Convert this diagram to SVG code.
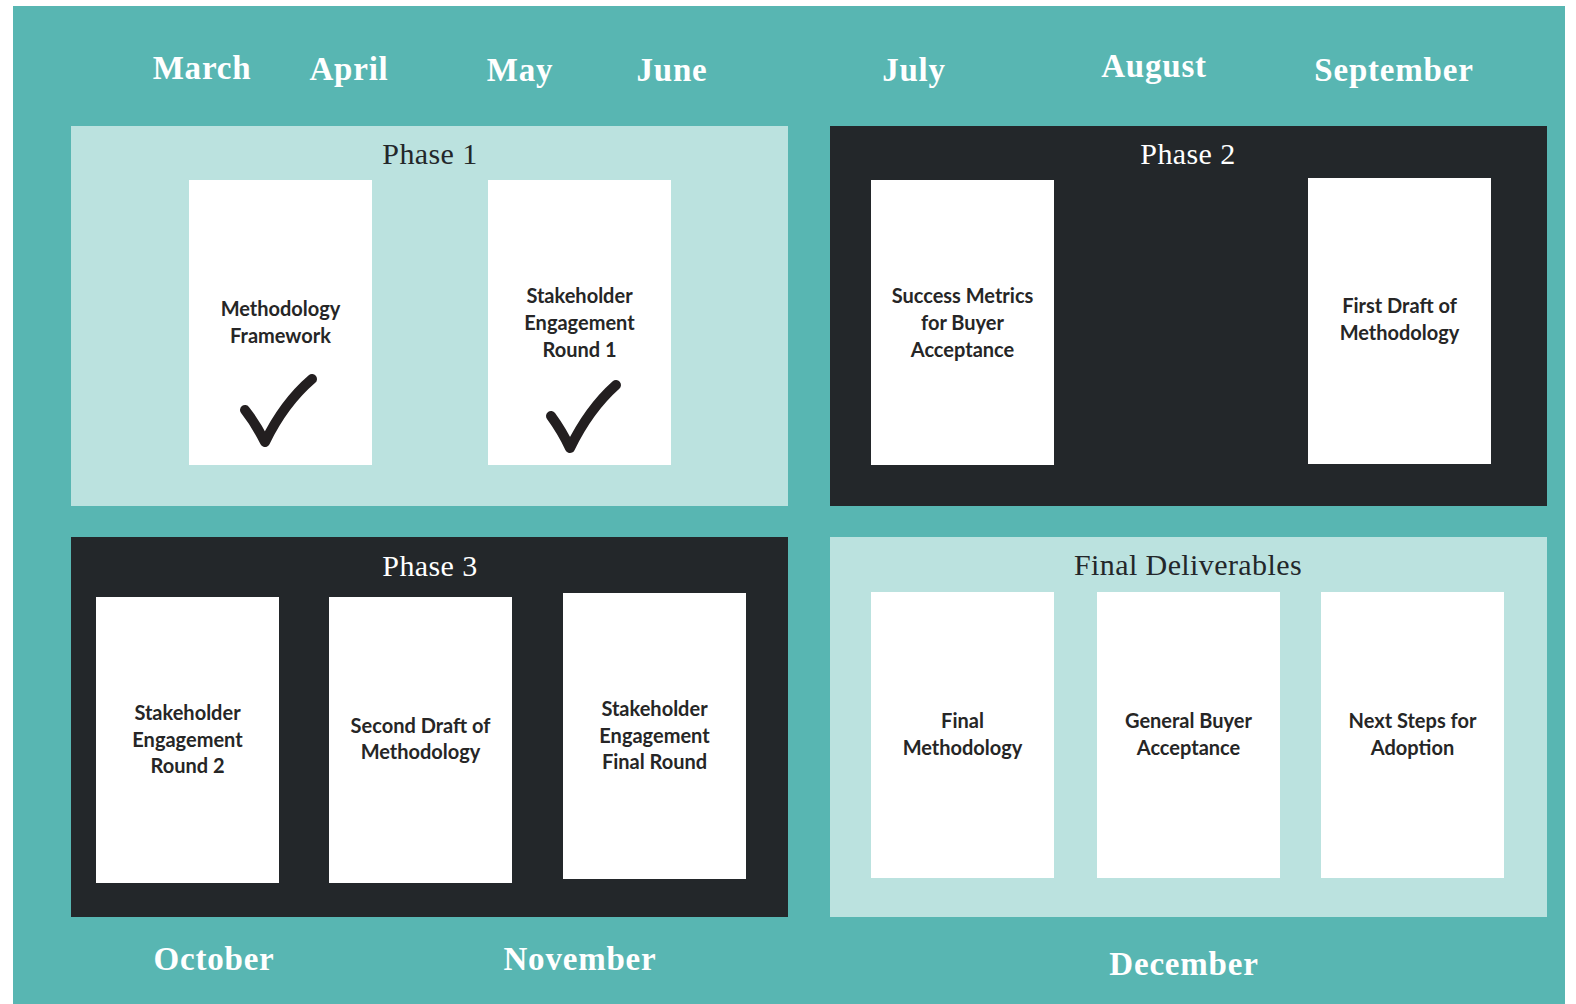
<svg xmlns="http://www.w3.org/2000/svg" width="1576" height="1004" viewBox="0 0 1576 1004">
<style>
.month{font-family:"Liberation Serif",serif;font-weight:bold;font-size:33px;letter-spacing:0.8px;fill:#ffffff;text-anchor:middle}
.title{font-family:"Liberation Serif",serif;font-size:30px;letter-spacing:0.4px;text-anchor:middle}
.dark{fill:#23272a}
.light{fill:#bbe2df}
.card{fill:#ffffff}
.lbl{font-family:Lato,"Liberation Sans",sans-serif;font-weight:bold;font-size:20px;fill:#262626;text-anchor:middle}
.check{fill:none;stroke:#231f20;stroke-width:10;stroke-linecap:round;stroke-linejoin:round}
</style>
<rect x="0" y="0" width="1576" height="1004" fill="#ffffff"/>
<rect x="13" y="6" width="1552" height="998" fill="#58b6b2"/>
<g id="months">
<text class="month" x="202" y="79">March</text>
<text class="month" x="349" y="80">April</text>
<text class="month" x="520" y="81">May</text>
<text class="month" x="672" y="81">June</text>
<text class="month" x="914" y="81">July</text>
<text class="month" x="1154" y="77">August</text>
<text class="month" x="1394" y="81">September</text>
<text class="month" x="214" y="970">October</text>
<text class="month" x="580" y="970">November</text>
<text class="month" x="1184" y="975">December</text>
</g>
<g id="phase1">
<rect class="light" x="71" y="126" width="717" height="380"/>
<text class="title" x="430" y="164" fill="#23272a">Phase 1</text>
</g>
<g id="phase2">
<rect class="dark" x="830" y="126" width="717" height="380"/>
<text class="title" x="1188" y="164" fill="#ffffff">Phase 2</text>
</g>
<g id="phase3">
<rect class="dark" x="71" y="537" width="717" height="380"/>
<text class="title" x="430" y="576" fill="#ffffff">Phase 3</text>
</g>
<g id="final">
<rect class="light" x="830" y="537" width="717" height="380"/>
<text class="title" x="1188" y="575" fill="#23272a">Final Deliverables</text>
</g>
<g id="card-methodology-framework">
<rect class="card" x="189" y="180" width="183" height="285"/>
<text class="lbl" x="280.5" y="316">Methodology</text>
<text class="lbl" x="280.5" y="343">Framework</text>
<path class="check" d="M245,410 Q256,424 265,442 Q284,403 312,379"/>
</g>
<g id="card-stakeholder-1">
<rect class="card" x="488" y="180" width="183" height="285"/>
<text class="lbl" x="579.5" y="303">Stakeholder</text>
<text class="lbl" x="579.5" y="330">Engagement</text>
<text class="lbl" x="579.5" y="357">Round 1</text>
<path class="check" d="M551,416 Q562,431 570,448 Q589,409 616,385"/>
</g>
<g id="card-success-metrics">
<rect class="card" x="871" y="180" width="183" height="285"/>
<text class="lbl" x="962.5" y="303">Success Metrics</text>
<text class="lbl" x="962.5" y="330">for Buyer</text>
<text class="lbl" x="962.5" y="357">Acceptance</text>
</g>
<g id="card-first-draft">
<rect class="card" x="1308" y="178" width="183" height="286"/>
<text class="lbl" x="1399.5" y="313">First Draft of</text>
<text class="lbl" x="1399.5" y="340">Methodology</text>
</g>
<g id="card-stakeholder-2">
<rect class="card" x="96" y="597" width="183" height="286"/>
<text class="lbl" x="187.5" y="720">Stakeholder</text>
<text class="lbl" x="187.5" y="747">Engagement</text>
<text class="lbl" x="187.5" y="773">Round 2</text>
</g>
<g id="card-second-draft">
<rect class="card" x="329" y="597" width="183" height="286"/>
<text class="lbl" x="420.5" y="733">Second Draft of</text>
<text class="lbl" x="420.5" y="759">Methodology</text>
</g>
<g id="card-stakeholder-final">
<rect class="card" x="563" y="593" width="183" height="286"/>
<text class="lbl" x="654.5" y="716">Stakeholder</text>
<text class="lbl" x="654.5" y="743">Engagement</text>
<text class="lbl" x="654.5" y="769">Final Round</text>
</g>
<g id="card-final-methodology">
<rect class="card" x="871" y="592" width="183" height="286"/>
<text class="lbl" x="962.5" y="728">Final</text>
<text class="lbl" x="962.5" y="755">Methodology</text>
</g>
<g id="card-general-buyer">
<rect class="card" x="1097" y="592" width="183" height="286"/>
<text class="lbl" x="1188.5" y="728">General Buyer</text>
<text class="lbl" x="1188.5" y="755">Acceptance</text>
</g>
<g id="card-next-steps">
<rect class="card" x="1321" y="592" width="183" height="286"/>
<text class="lbl" x="1412.5" y="728">Next Steps for</text>
<text class="lbl" x="1412.5" y="755">Adoption</text>
</g>
<g id="connectors"></g>
</svg>
